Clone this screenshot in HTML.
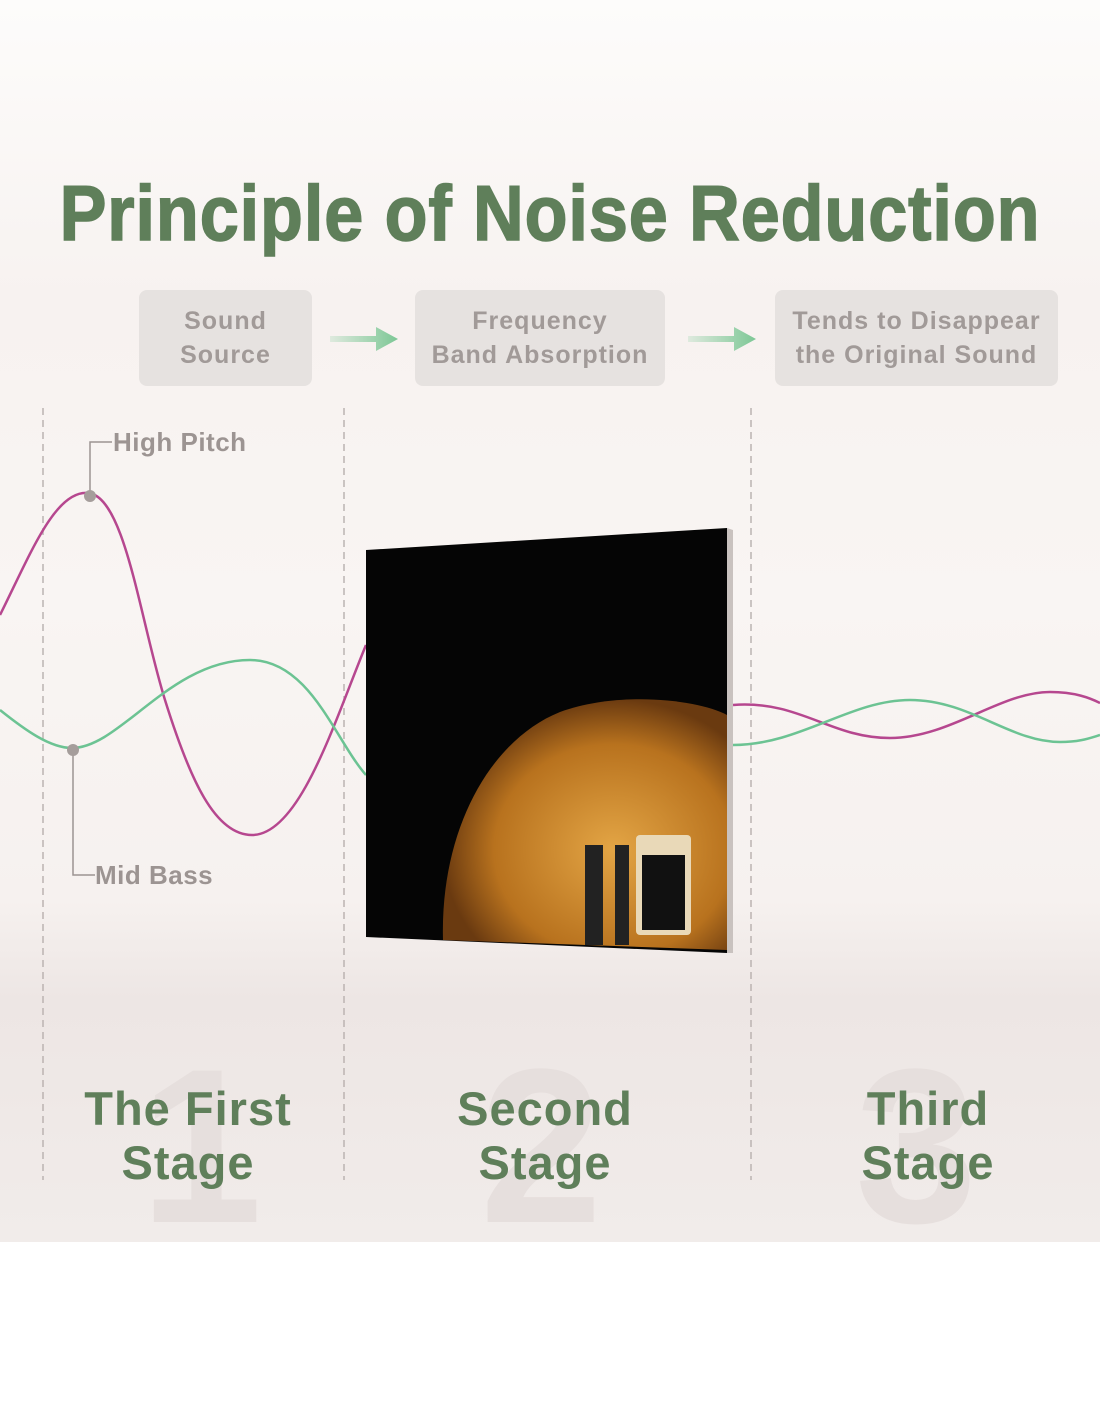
<!DOCTYPE html><html><head><style>
body{margin:0;width:1100px;height:1422px;background:#fff;font-family:"Liberation Sans",sans-serif;position:relative;overflow:hidden}
.bg{position:absolute;left:0;top:0;width:1100px;height:1242px;background:linear-gradient(#fdfcfb 0,#f7f2f0 300px,#f9f5f3 600px,#f6f1ef 900px,#ede6e4 1000px,#f1ecea 1242px)}
.t{position:absolute;left:0;width:1100px;top:168px;text-align:center;font-size:78px;font-weight:bold;color:#5f7f5a;transform:scaleX(0.90);letter-spacing:1px;-webkit-text-stroke:1.5px #5f7f5a}
.box{position:absolute;top:290px;height:96px;background:#e6e2e0;border-radius:8px;color:#a19a98;font-weight:bold;font-size:25px;text-align:center;line-height:34px;display:flex;align-items:center;justify-content:center;letter-spacing:1px}
.lbl{position:absolute;font-weight:bold;font-size:26px;color:#9c9492;letter-spacing:.5px}
.num{position:absolute;top:1020px;font-size:220px;font-weight:bold;color:#e6dfdd}
.st{position:absolute;top:1082px;font-size:47px;font-weight:bold;color:#5f7f5a;text-align:center;line-height:54px;width:300px;letter-spacing:1px}
</style></head><body>
<div class="bg"></div>
<div class="t">Principle of Noise Reduction</div>
<div class="box" style="left:139px;width:173px">Sound<br>Source</div>
<div class="box" style="left:415px;width:250px">Frequency<br>Band Absorption</div>
<div class="box" style="left:775px;width:283px">Tends to Disappear<br>the Original Sound</div>
<div class="num" style="left:140px">1</div>
<div class="num" style="left:480px">2</div>
<div class="num" style="left:855px">3</div>
<svg style="position:absolute;left:0;top:0" width="1100" height="1242">
<defs><linearGradient id="ag"><stop offset="0" stop-color="#7cc795" stop-opacity="0.2"/><stop offset="1" stop-color="#7cc795"/></linearGradient>
<radialGradient id="og" cx="0.6" cy="0.6" r="0.6"><stop offset="0" stop-color="#e3a545"/><stop offset="0.7" stop-color="#b8721e"/><stop offset="1" stop-color="#6a3a10"/></radialGradient></defs>
<path d="M330 336h46v-9l22 12-22 12v-9h-46z" fill="url(#ag)"/>
<path d="M688 336h46v-9l22 12-22 12v-9h-46z" fill="url(#ag)"/>
<g stroke="#bbb3b1" stroke-width="1.5" stroke-dasharray="7 5">
<line x1="43" y1="408" x2="43" y2="1180"/><line x1="344" y1="408" x2="344" y2="1180"/><line x1="751" y1="408" x2="751" y2="1180"/></g>
<path d="M0 615 C30 555 55 490 88 493 C125 496 140 620 165 700 C190 780 215 835 252 835 C300 835 335 720 366 645" fill="none" stroke="#b6478f" stroke-width="2.5"/>
<path d="M0 710 C25 730 50 748 72 748 C120 748 170 660 250 660 C310 660 335 740 366 775" fill="none" stroke="#6cc393" stroke-width="2.5"/>
<path d="M733 705 C800 700 830 738 890 738 C950 738 1000 692 1050 692 C1075 692 1090 698 1100 703" fill="none" stroke="#b6478f" stroke-width="2.5"/>
<path d="M733 745 C800 745 850 700 910 700 C970 700 1010 742 1060 742 C1080 742 1090 738 1100 735" fill="none" stroke="#6cc393" stroke-width="2.5"/>
<g stroke="#9c9492" stroke-width="1.5" fill="none"><path d="M90 495V442h22"/><path d="M73 750V875h22"/></g>
<circle cx="90" cy="496" r="6" fill="#a59d9b"/><circle cx="73" cy="750" r="6" fill="#a59d9b"/>
<polygon points="727,528 733,530 733,953 727,953" fill="#c9c2bf"/>
<polygon points="366,550 727,528 727,953 366,937" fill="#050505"/>
<path d="M443 940 C440 830 490 740 560 712 C620 690 700 700 727 715 L727 950 Z" fill="url(#og)"/>
<rect x="585" y="845" width="18" height="100" fill="#222"/><rect x="615" y="845" width="14" height="100" fill="#222"/>
<rect x="636" y="835" width="55" height="100" rx="4" fill="#e9d9b8"/><rect x="642" y="855" width="43" height="75" fill="#111"/>
</svg>
<div class="lbl" style="left:113px;top:427px">High Pitch</div>
<div class="lbl" style="left:95px;top:860px">Mid Bass</div>
<div class="st" style="left:38px">The First<br>Stage</div>
<div class="st" style="left:395px">Second<br>Stage</div>
<div class="st" style="left:778px">Third<br>Stage</div>
</body></html>
